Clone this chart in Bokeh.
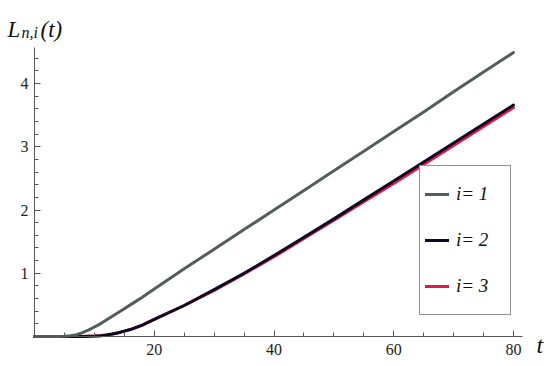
from bokeh.plotting import figure
from bokeh.models import Range1d, FixedTicker, Legend, LegendItem, Label
from bokeh.embed import file_html
from bokeh.resources import INLINE

# ---- data ----
t_vals = [0, 4, 5, 6, 7, 8, 9, 10, 11, 12, 13, 14, 15, 16, 18, 20, 25, 30, 35, 40,
          45, 50, 55, 60, 65, 70, 75, 80]
L_i1 = [0, 0, 0.003, 0.012, 0.03, 0.06, 0.10, 0.15, 0.20, 0.26, 0.32, 0.38, 0.44, 0.50,
        0.62, 0.75, 1.07, 1.38, 1.69, 2.00, 2.31, 2.62, 2.93, 3.24, 3.55, 3.87, 4.18, 4.49]
L_i2 = [0, 0, 0, 0, 0, 0, 0.002, 0.006, 0.013, 0.025, 0.04, 0.06, 0.085, 0.11,
        0.18, 0.27, 0.49, 0.74, 1.00, 1.28, 1.57, 1.86, 2.16, 2.46, 2.76, 3.06, 3.36, 3.66]
L_i3 = [0, 0, 0, 0, 0, 0, 0.002, 0.006, 0.013, 0.025, 0.04, 0.06, 0.085, 0.11,
        0.18, 0.27, 0.49, 0.73, 0.99, 1.26, 1.55, 1.84, 2.13, 2.42, 2.72, 3.02, 3.32, 3.62]
series_names = ["i= 1", "i= 2", "i= 3"]
series_colors = ["#535d59", "#0c0c22", "#e2184b"]
x_major = [20, 40, 60, 80]
x_minor = [5, 10, 15, 25, 30, 35, 45, 50, 55, 65, 70, 75]
y_major = [1, 2, 3, 4]
y_minor = [round(0.2 * k, 1) for k in range(1, 23) if k % 5 != 0]

SERIF = "Liberation Serif"

# canvas pixel -> data helpers (layout only)
X0, XS = 34, 5.9875
Y0, YS = 336, 63.25


def dx(px):
    return (px - X0) / XS


def dy(py):
    return (Y0 - py) / YS


W, H = 550, 366
p = figure(width=W, height=H, output_backend="svg", toolbar_location=None,
           x_range=Range1d(dx(0), dx(W)), y_range=Range1d(dy(H), dy(0)),
           min_border_left=0, min_border_right=0, min_border_top=0,
           min_border_bottom=0)
p.outline_line_color = None
p.grid.visible = False
p.background_fill_color = "white"
p.border_fill_color = "white"

for ax in (p.xaxis[0], p.yaxis[0]):
    ax.axis_line_color = "#555555"
    ax.axis_line_width = 1
    ax.major_tick_line_color = "#555555"
    ax.minor_tick_line_color = "#555555"
    ax.major_tick_out = 0
    ax.major_tick_in = 6
    ax.minor_tick_out = 0
    ax.minor_tick_in = 4
    ax.major_label_text_font = SERIF
    ax.major_label_text_color = "#222222"
    ax.major_label_text_font_size = "16px"

p.xaxis.fixed_location = 0
p.yaxis.fixed_location = 0
p.xaxis.bounds = (0, 81.5)
p.yaxis.bounds = (0, 4.57)
p.xaxis.ticker = FixedTicker(ticks=x_major, minor_ticks=x_minor)
p.xaxis.major_label_standoff = 7
p.yaxis.ticker = FixedTicker(ticks=y_major, minor_ticks=y_minor)
p.yaxis.major_label_standoff = 6

renderers = {}
for name, ys, c in [("i3", L_i3, series_colors[2]), ("i2", L_i2, series_colors[1]),
                    ("i1", L_i1, series_colors[0])]:
    renderers[name] = p.line(t_vals, ys, line_color=c, line_width=3,
                             line_join="round", line_cap="round")
ordered = [renderers["i1"], renderers["i2"], renderers["i3"]]

legend = Legend(items=[LegendItem(label=n, renderers=[r]) for n, r in zip(series_names, ordered)],
                location=(419, 51), orientation="vertical",
                glyph_width=24, glyph_height=46, spacing=0, padding=5,
                label_standoff=7, label_width=49, label_height=46,
                label_text_font=SERIF, label_text_font_style="italic",
                label_text_font_size="19px", label_text_color="#111111",
                border_line_color="#222222", border_line_width=1,
                background_fill_color="white", background_fill_alpha=1.0,
                margin=0)
p.add_layout(legend, "center")

p.add_layout(Label(x=dx(7), y=dy(29), text="L", text_font=SERIF, text_font_style="italic",
                   text_font_size="23px", text_baseline="alphabetic", text_color="#111111"))
p.add_layout(Label(x=dx(21), y=dy(32), text="n,i", text_font=SERIF, text_font_style="italic",
                   text_font_size="16px", text_baseline="alphabetic", text_color="#111111"))
p.add_layout(Label(x=dx(40), y=dy(29), text="(t)", text_font=SERIF, text_font_style="italic",
                   text_font_size="23px", text_baseline="alphabetic", text_color="#111111"))
p.add_layout(Label(x=dx(536), y=dy(344), text="t", text_font=SERIF, text_font_style="italic",
                   text_font_size="24px", text_baseline="alphabetic", text_color="#111111"))

open("out.html", "w").write(file_html(p, INLINE))
